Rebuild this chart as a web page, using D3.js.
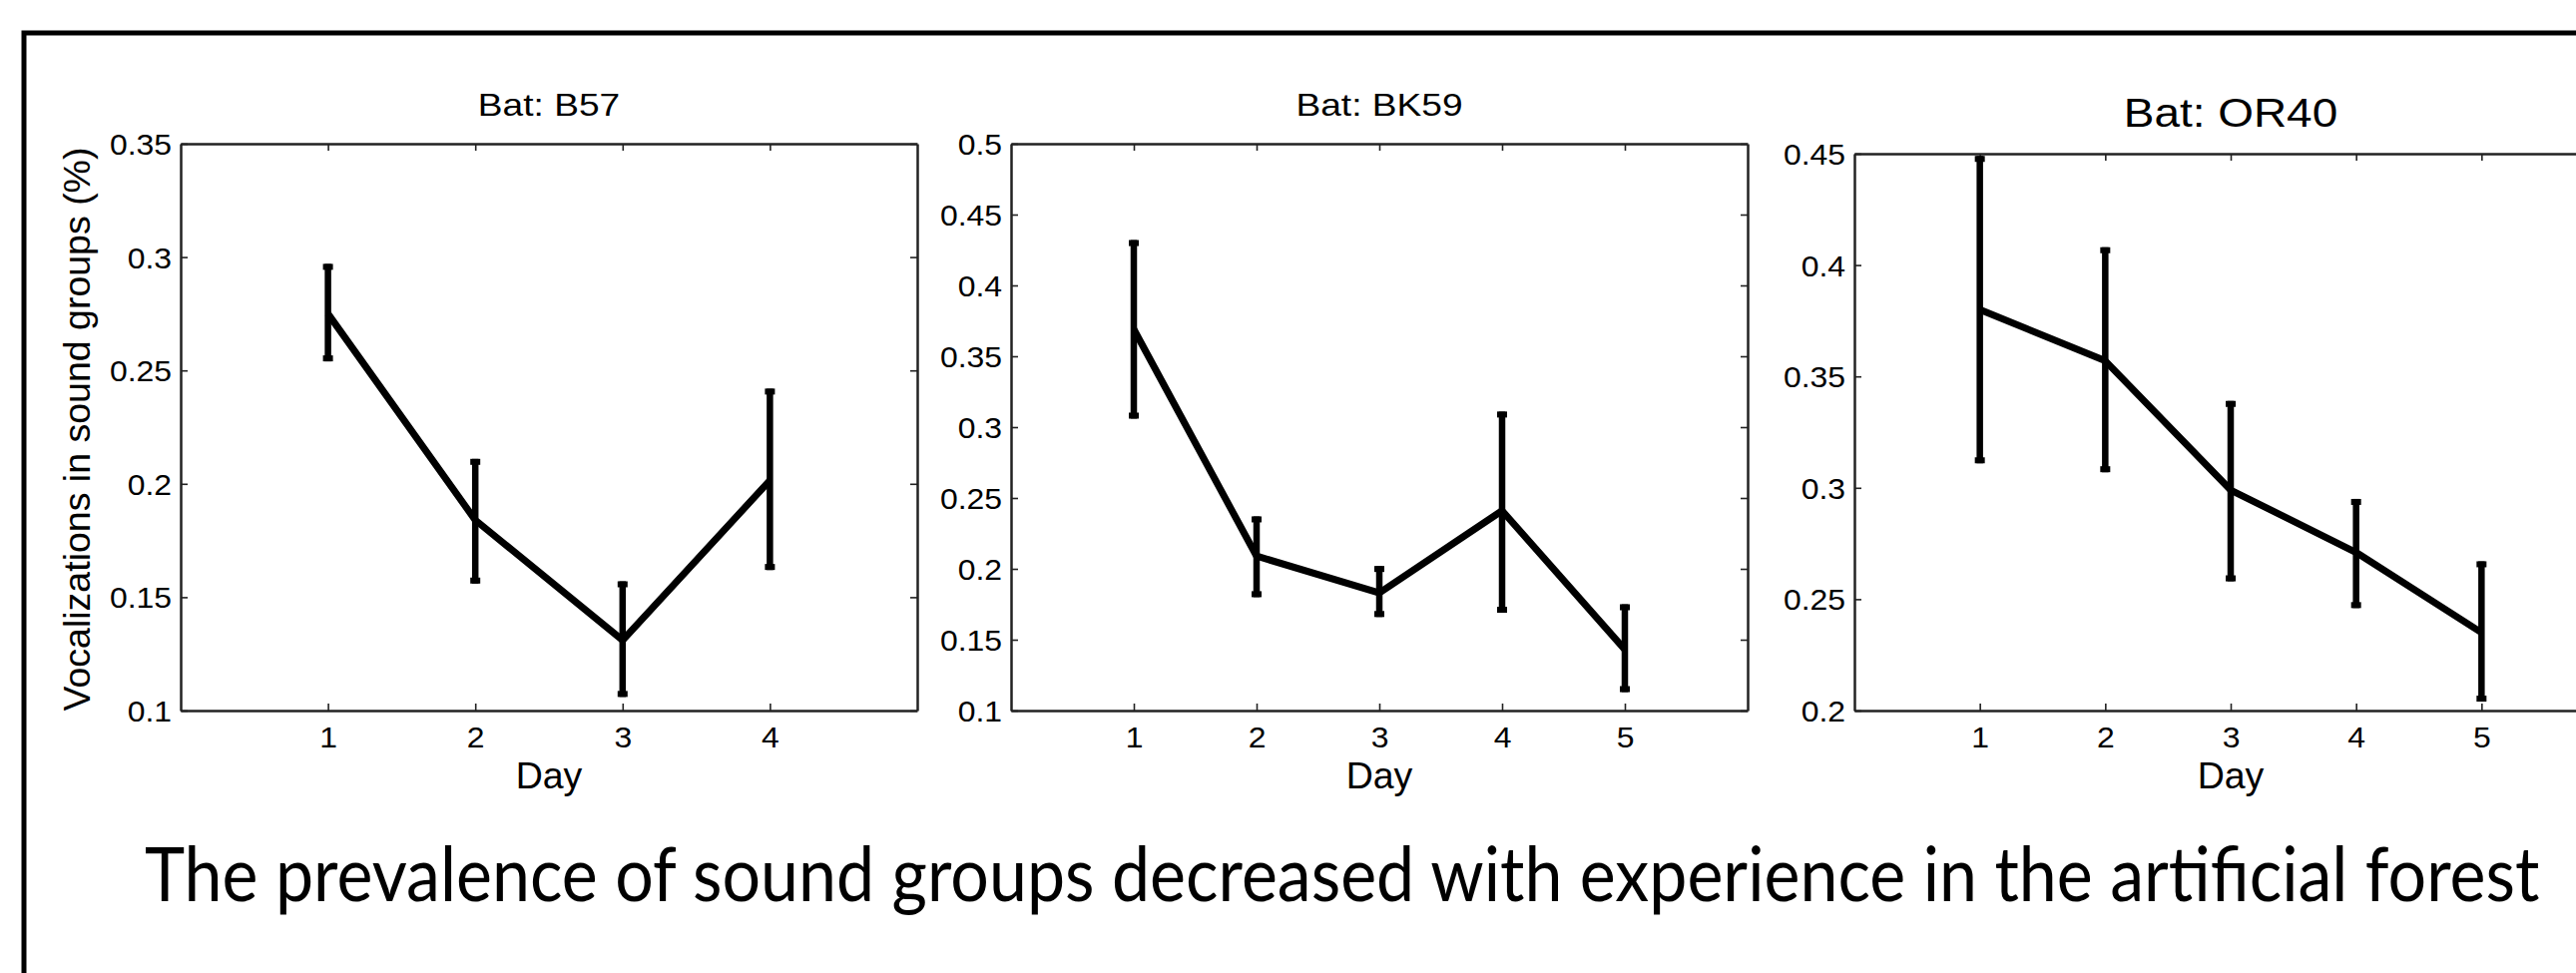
<!DOCTYPE html>
<html>
<head>
<meta charset="utf-8">
<script src="https://cdn.jsdelivr.net/npm/d3@7"></script>
<style>
  html, body { margin: 0; padding: 0; background: #fff; overflow: hidden; }
  svg { display: block; }
</style>
</head>
<body>
<svg id="chart" width="2581" height="975"></svg>
<script>
// ---------------- data ----------------
const batNames = ["B57", "BK59", "OR40"];

const b57Days  = [1, 2, 3, 4];
const b57Mean  = [0.275, 0.184, 0.131, 0.2015];
const b57Upper = [0.297, 0.211, 0.157, 0.242];
const b57Lower = [0.254, 0.156, 0.106, 0.162];

const bk59Days  = [1, 2, 3, 4, 5];
const bk59Mean  = [0.369, 0.209, 0.183, 0.241, 0.143];
const bk59Upper = [0.432, 0.237, 0.202, 0.311, 0.175];
const bk59Lower = [0.306, 0.180, 0.166, 0.169, 0.113];

const or40Days  = [1, 2, 3, 4, 5];
const or40Mean  = [0.380, 0.357, 0.299, 0.271, 0.235];
const or40Upper = [0.449, 0.408, 0.339, 0.295, 0.267];
const or40Lower = [0.311, 0.307, 0.258, 0.246, 0.204];

const b57YTicks  = [0.1, 0.15, 0.2, 0.25, 0.3, 0.35];
const bk59YTicks = [0.1, 0.15, 0.2, 0.25, 0.3, 0.35, 0.4, 0.45, 0.5];
const or40YTicks = [0.2, 0.25, 0.3, 0.35, 0.4, 0.45];
const b57XTicks  = [1, 2, 3, 4];
const bk59XTicks = [1, 2, 3, 4, 5];
const or40XTicks = [1, 2, 3, 4, 5];

const xLabel = "Day";
const yLabel = "Vocalizations in sound groups (%)";
const caption = "The prevalence of sound groups decreased with experience in the artificial forest";

// ---------------- layout ----------------
const svg = d3.select("#chart");
const AXIS_FONT = "'Liberation Sans', Arial, Helvetica, sans-serif";

// outer frame (open on the right and bottom, as in the cropped original)
svg.append("path")
  .attr("d", "M2581,33 H24 V975")
  .attr("fill", "none").attr("stroke", "#000").attr("stroke-width", 5);

const panels = [
  { name: batNames[0], days: b57Days, mean: b57Mean, upper: b57Upper, lower: b57Lower,
    yTicks: b57YTicks, xTicks: b57XTicks, xDom: [0, 5], yDom: [0.1, 0.35],
    left: 181, right: 919, top: 144, bottom: 712, titleY: 116, titleSize: 32, titleStretch: 1.16, showYLabel: true },
  { name: batNames[1], days: bk59Days, mean: bk59Mean, upper: bk59Upper, lower: bk59Lower,
    yTicks: bk59YTicks, xTicks: bk59XTicks, xDom: [0, 6], yDom: [0.1, 0.5],
    left: 1013, right: 1751, top: 144, bottom: 712, titleY: 116, titleSize: 32, titleStretch: 1.16, showYLabel: false },
  { name: batNames[2], days: or40Days, mean: or40Mean, upper: or40Upper, lower: or40Lower,
    yTicks: or40YTicks, xTicks: or40XTicks, xDom: [0, 6], yDom: [0.2, 0.45],
    left: 1858, right: 2612, top: 154, bottom: 712, titleY: 127, titleSize: 41, titleStretch: 1.12, showYLabel: false }
];

const TICK_STRETCH = 1.1;
const TICK_SIZE = 29;
const fmt = v => String(+v.toFixed(2));

panels.forEach(p => {
  const x = d3.scaleLinear().domain(p.xDom).range([p.left, p.right]);
  const y = d3.scaleLinear().domain(p.yDom).range([p.bottom, p.top]);
  const g = svg.append("g");

  const styleAxis = sel => {
    sel.select(".domain").attr("stroke", "#222").attr("stroke-width", 2.5);
    sel.selectAll(".tick line").attr("stroke", "#222").attr("stroke-width", 1.6);
  };

  // left axis
  const gl = g.append("g").attr("transform", `translate(${p.left},0)`)
    .call(d3.axisLeft(y).tickValues(p.yTicks).tickFormat(fmt).tickSizeInner(-7).tickSizeOuter(0).tickPadding(10));
  styleAxis(gl);
  gl.selectAll(".tick text")
    .attr("font-family", AXIS_FONT).attr("font-size", TICK_SIZE).attr("fill", "#000")
    .attr("x", -9 / TICK_STRETCH).attr("dy", "0.36em")
    .attr("transform", `scale(${TICK_STRETCH},1)`);

  // right axis (ticks only)
  const gr = g.append("g").attr("transform", `translate(${p.right},0)`)
    .call(d3.axisRight(y).tickValues(p.yTicks).tickFormat("").tickSizeInner(-7).tickSizeOuter(0));
  styleAxis(gr);

  // bottom axis
  const gb = g.append("g").attr("transform", `translate(0,${p.bottom})`)
    .call(d3.axisBottom(x).tickValues(p.xTicks).tickFormat(d3.format("d")).tickSizeInner(-7).tickSizeOuter(0).tickPadding(10));
  styleAxis(gb);
  gb.selectAll(".tick text")
    .attr("font-family", AXIS_FONT).attr("font-size", TICK_SIZE).attr("fill", "#000")
    .attr("y", 37).attr("dy", null)
    .attr("transform", `scale(${TICK_STRETCH},1)`);

  // top axis (ticks only)
  const gt = g.append("g").attr("transform", `translate(0,${p.top})`)
    .call(d3.axisTop(x).tickValues(p.xTicks).tickFormat("").tickSizeInner(-7).tickSizeOuter(0));
  styleAxis(gt);

  // title
  const cx = (p.left + p.right) / 2;
  g.append("text")
    .attr("transform", `translate(${cx},${p.titleY}) scale(${p.titleStretch},1)`)
    .attr("text-anchor", "middle")
    .attr("font-family", AXIS_FONT).attr("font-size", p.titleSize).attr("fill", "#000")
    .text("Bat: " + p.name);

  // x label
  g.append("text")
    .attr("x", cx).attr("y", 790)
    .attr("text-anchor", "middle")
    .attr("font-family", AXIS_FONT).attr("font-size", 37.5).attr("fill", "#000")
    .text(xLabel);

  if (p.showYLabel) {
    g.append("text")
      .attr("transform", `translate(90,${(p.top + p.bottom) / 2 + 2}) rotate(-90)`)
      .attr("text-anchor", "middle")
      .attr("font-family", AXIS_FONT).attr("font-size", 37.5).attr("fill", "#000")
      .text(yLabel);
  }

  // data
  const rows = p.days.map((d, i) => ({ day: d, mean: p.mean[i], up: p.upper[i], lo: p.lower[i] }));

  g.append("g").selectAll("line.err").data(rows).join("line")
    .attr("x1", d => x(d.day)).attr("x2", d => x(d.day))
    .attr("y1", d => y(d.up)).attr("y2", d => y(d.lo))
    .attr("stroke", "#000").attr("stroke-width", 6.5);

  const capW = 5;
  g.append("g").selectAll("line.capu").data(rows).join("line")
    .attr("x1", d => x(d.day) - capW).attr("x2", d => x(d.day) + capW)
    .attr("y1", d => y(d.up) + 3).attr("y2", d => y(d.up) + 3)
    .attr("stroke", "#000").attr("stroke-width", 6);
  g.append("g").selectAll("line.capl").data(rows).join("line")
    .attr("x1", d => x(d.day) - capW).attr("x2", d => x(d.day) + capW)
    .attr("y1", d => y(d.lo) - 3).attr("y2", d => y(d.lo) - 3)
    .attr("stroke", "#000").attr("stroke-width", 6);

  g.append("path").datum(rows)
    .attr("fill", "none").attr("stroke", "#000").attr("stroke-width", 7)
    .attr("stroke-linejoin", "round")
    .attr("d", d3.line().x(d => x(d.day)).y(d => y(d.mean)));
});

// caption: natural width measured, then squeezed horizontally to fit
const capText = svg.append("text")
  .attr("x", 0).attr("y", 0)
  .attr("font-family", "Lato, 'Open Sans', sans-serif").attr("font-size", 75).attr("fill", "#000")
  .text(caption);
const natural = capText.node().getComputedTextLength();
const sx = 2400 / natural;
capText.attr("transform", `translate(145,903) scale(${sx},1)`);
</script>
</body>
</html>
